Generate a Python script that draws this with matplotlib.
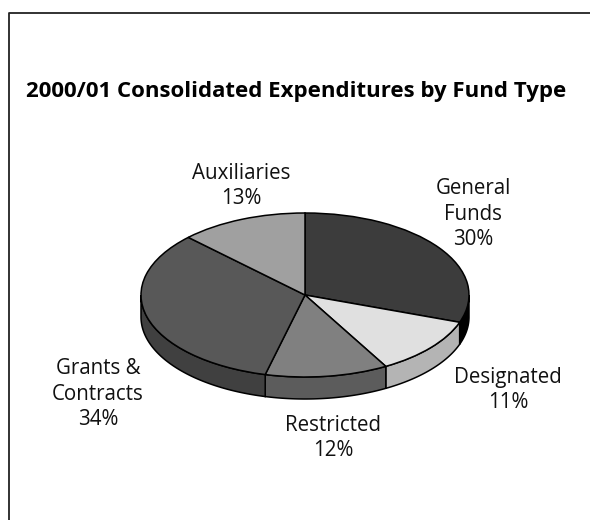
import numpy as np
from matplotlib import pyplot as plt

names = ["General\nFunds", "Designated", "Restricted", "Grants &\nContracts", "Auxiliaries"]
shares = [30.4, 11.4, 12.1, 33.5, 12.6]
pct_labels = ["30%", "11%", "12%", "34%", "13%"]
title = "2000/01 Consolidated Expenditures by Fund Type"

top_colors = ["#3c3c3c", "#e0e0e0", "#808080", "#585858", "#a0a0a0"]
wall_colors = ["#000000", "#b4b4b4", "#5c5c5c", "#404040", "#6c6c6c"]
label_pos = [(473, 214), (508, 390), (333, 438), (98, 394), (241, 186)]

W, H = 590, 520
plt.rcParams['font.family'] = ['Open Sans', 'DejaVu Sans']

fig = plt.figure(figsize=(W / 100, H / 100), dpi=100)

# whole figure in pixels, for the frame and the text
bg = fig.add_axes([0, 0, 1, 1])
bg.set_xlim(0, W)
bg.set_ylim(H, 0)
bg.axis('off')
bg.plot([9, 9, W], [H, 12.5, 12.5], color='#222222', lw=1.3, clip_on=False)
bg.text(26, 91, title, fontsize=16.05, fontweight='bold', va='center', ha='left', color='black')
for name, pct, pos in zip(names, pct_labels, label_pos):
    bg.text(pos[0], pos[1], name + "\n" + pct, fontsize=14.8, ha='center', va='center',
            linespacing=1.28, color='#111111')

# ellipse: x 141..469, y 213..377 in pixels
ax = fig.add_axes([141 / W, 1 - 377 / H, 328 / W, 164 / H])
depth = 22 / 82

# side wall, only the part that faces the viewer
edges = 90 - 3.6 * np.concatenate([[0], np.cumsum(shares)])
for i in range(len(shares)):
    a = max(edges[i + 1], -180)
    b = min(edges[i], 0)
    if b <= a:
        continue
    t = np.radians(np.linspace(a, b, 60))
    xs = np.cos(t)
    ys = np.sin(t)
    ax.fill(np.r_[xs, xs[::-1]], np.r_[ys, ys[::-1] - depth], facecolor=wall_colors[i],
            edgecolor='black', lw=1.1, clip_on=False, zorder=1)

wedges, _ = ax.pie(shares, colors=top_colors, startangle=90, counterclock=False, radius=1,
                   wedgeprops={'edgecolor': 'black', 'linewidth': 1.1, 'clip_on': False, 'zorder': 2})
ax.set_aspect('auto')
ax.set_xlim(-1, 1)
ax.set_ylim(-1, 1)

fig.savefig("out.png", dpi=100)
